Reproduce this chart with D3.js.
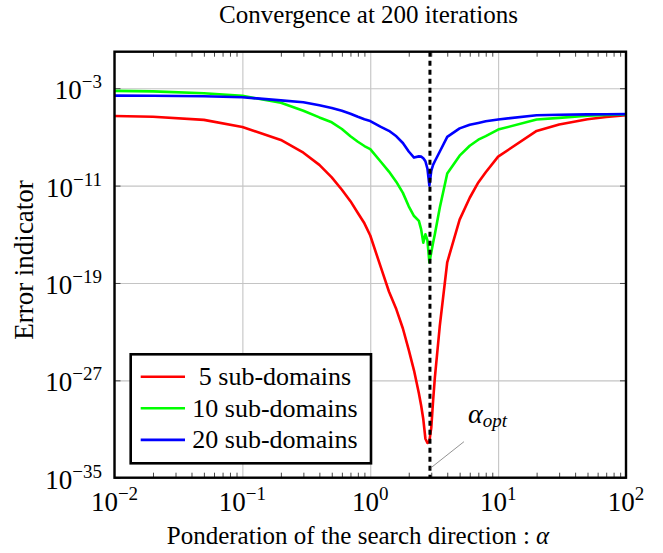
<!DOCTYPE html>
<html><head><meta charset="utf-8">
<script src="https://cdn.jsdelivr.net/npm/d3@7"></script>
<style>body{margin:0;background:#fff}</style>
</head><body><svg id="c" width="663" height="553"></svg>
<script>
// ---- data (error values stored as log10 exponents) ----
const alpha = [0.01,0.02,0.05,0.1,0.2,0.3,0.4,0.5,0.6,0.7,0.8,0.9,1,1.2,1.4,1.6,1.8,2,2.2,2.4,2.5,2.6,2.7,2.8,2.9,3,3.1,3.2,3.5,4,5,6,7,8,10,20,30,50,70,100];
const err5  = [-5.28,-5.35,-5.6,-6.18,-7.25,-8.3,-9.3,-10.33,-11.34,-12.28,-13.25,-14.1,-15.1,-17.6,-19.7,-21.17,-22.74,-24.5,-26.2,-28.07,-29.07,-30.2,-31.8,-32.15,-32.0,-30.9,-28.7,-26.8,-22.5,-17.3,-13.8,-12.0,-10.74,-9.9,-8.62,-6.51,-5.98,-5.55,-5.37,-5.22];
const err10 = [-3.22,-3.26,-3.41,-3.63,-4.2,-4.85,-5.4,-5.8,-6.35,-6.95,-7.4,-7.75,-8.0,-9.0,-9.85,-10.7,-11.6,-12.7,-13.5,-13.9,-14.6,-15.7,-15.0,-15.5,-17.3,-16.5,-15.7,-15.0,-12.8,-10.0,-8.54,-7.73,-7.23,-6.93,-6.4,-5.57,-5.44,-5.26,-5.2,-5.15];
const err20 = [-3.61,-3.62,-3.66,-3.74,-4.0,-4.15,-4.4,-4.62,-4.85,-5.1,-5.35,-5.55,-5.7,-6.15,-6.5,-6.95,-7.5,-8.2,-8.7,-8.6,-8.62,-8.75,-9.0,-9.6,-11.0,-9.8,-9.3,-9.0,-8.2,-7.0,-6.3,-6.0,-5.85,-5.72,-5.57,-5.22,-5.18,-5.15,-5.14,-5.13];
const seriesNames = ["5 sub-domains","10 sub-domains","20 sub-domains"];
const seriesColors = ["#ff0000","#00ff00","#0000ff"];
const xTickExp = [-2,-1,0,1,2];
const yTickExp = [-3,-11,-19,-27,-35];
const alphaOpt = 2.93;
const titleText = "Convergence at 200 iterations";
const xLabelText = "Ponderation of the search direction : ";
const yLabelText = "Error indicator";

// ---- layout ----
const L=114.5,R=626,T=51.7,B=477.7;
const FONT = "'Liberation Serif','Times New Roman',serif";
const svg = d3.select("#c").style("font-family",FONT);
const x = d3.scaleLog().domain([1e-2,1e2]).range([L,R]);
const y = d3.scaleLog().domain([1e-35,1]).range([B,T]);

// grid
const gxg = svg.append("g").attr("transform",`translate(0,${B})`)
  .call(d3.axisBottom(x).tickValues(xTickExp.map(e=>10**e)).tickSize(-(B-T)).tickFormat(""));
const gyg = svg.append("g").attr("transform",`translate(${L},0)`)
  .call(d3.axisLeft(y).tickValues(yTickExp.map(e=>10**e)).tickSize(-(R-L)).tickFormat(""));
[gxg,gyg].forEach(g=>{g.select(".domain").remove();g.selectAll("line").attr("stroke","#c4c4c4").attr("stroke-width",1.1);});

// minor x ticks
const minor=[];
for(let e=-2;e<2;e++) for(let d=2;d<=9;d++) minor.push(d*10**e);
function styleTicks(g){g.select(".domain").remove();g.selectAll("line").attr("stroke","#333").attr("stroke-width",0.9);}
styleTicks(svg.append("g").attr("transform",`translate(0,${B})`).call(d3.axisBottom(x).tickValues(minor).tickSize(-5).tickFormat("")));
styleTicks(svg.append("g").attr("transform",`translate(0,${T})`).call(d3.axisTop(x).tickValues(minor).tickSize(-5).tickFormat("")));
styleTicks(svg.append("g").attr("transform",`translate(${L},0)`).call(d3.axisLeft(y).tickValues(yTickExp.map(e=>10**e)).tickSize(-6).tickFormat("")));
styleTicks(svg.append("g").attr("transform",`translate(${R},0)`).call(d3.axisRight(y).tickValues(yTickExp.map(e=>10**e)).tickSize(-6).tickFormat("")));

// curves
const series=[err5,err10,err20];
const line=d3.line().x((d,i)=>x(alpha[i])).y(d=>y(10**d));
series.forEach((s,k)=>{
  svg.append("path").datum(s).attr("d",line).attr("fill","none")
    .attr("stroke",seriesColors[k]).attr("stroke-width",2.6).attr("stroke-linejoin","round");
});

// optimal alpha dashed line
svg.append("line").attr("x1",x(alphaOpt)).attr("x2",x(alphaOpt)).attr("y1",T).attr("y2",B)
  .attr("stroke","#000").attr("stroke-width",3).attr("stroke-dasharray","5,4");
// annotation
svg.append("line").attr("x1",x(alphaOpt)+0.5).attr("y1",B-9.5).attr("x2",x(alphaOpt)+34).attr("y2",B-36)
  .attr("stroke","#777").attr("stroke-width",0.8);
const at=svg.append("text").attr("x",468).attr("y",423).attr("font-size",28).attr("font-style","italic");
at.append("tspan").text("α");
at.append("tspan").attr("font-size",19).attr("dy",4).text("opt");

// frame
svg.append("rect").attr("x",L).attr("y",T).attr("width",R-L).attr("height",B-T)
  .attr("fill","none").attr("stroke","#000").attr("stroke-width",2.4);

// tick labels
xTickExp.forEach(e=>{
  const t=svg.append("text").attr("x",x(10**e)).attr("y",511).attr("text-anchor","middle").attr("font-size",27);
  t.append("tspan").text("10");
  t.append("tspan").attr("font-size",19).attr("dy",-11).text(e<0?"\u2212"+(-e):String(e));
});
yTickExp.forEach(e=>{
  const t=svg.append("text").attr("x",102).attr("y",y(10**e)+11).attr("text-anchor","end").attr("font-size",27);
  t.append("tspan").text("10");
  t.append("tspan").attr("font-size",19).attr("dy",-11).text("\u2212"+(-e));
});

// title and axis labels
svg.append("text").attr("x",368.5).attr("y",23).attr("text-anchor","middle").attr("font-size",25).text(titleText);
const xl=svg.append("text").attr("x",358).attr("y",544).attr("text-anchor","middle").attr("font-size",25);
xl.append("tspan").text(xLabelText);
xl.append("tspan").attr("font-style","italic").text("α");
svg.append("text").attr("transform","translate(33,260) rotate(-90)").attr("text-anchor","middle").attr("font-size",27).text(yLabelText);

// legend
const lg=svg.append("g");
lg.append("rect").attr("x",130.7).attr("y",354.3).attr("width",240.3).attr("height",109)
  .attr("fill","#fff").attr("stroke","#000").attr("stroke-width",2.6);
seriesNames.forEach((n,k)=>{
  const yy=376.7+k*31.6;
  lg.append("line").attr("x1",140.7).attr("x2",185).attr("y1",yy).attr("y2",yy)
    .attr("stroke",seriesColors[k]).attr("stroke-width",2.6);
  lg.append("text").attr("x",275).attr("y",yy+8.5).attr("text-anchor","middle").attr("font-size",26).text(n);
});
</script></body></html>
